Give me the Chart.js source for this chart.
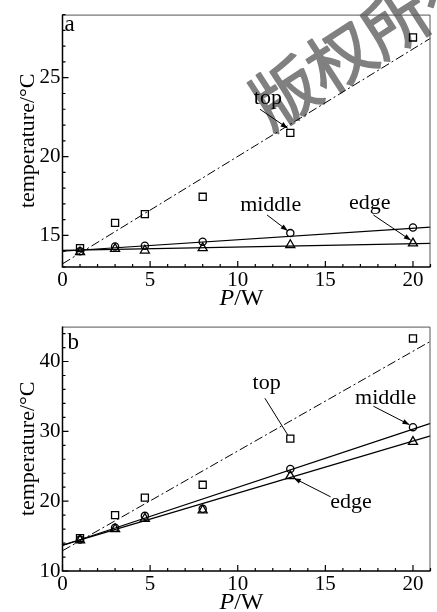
<!DOCTYPE html>
<html>
<head>
<meta charset="utf-8">
<script src="https://cdn.jsdelivr.net/npm/chart.js@4.4.1/dist/chart.umd.min.js"></script>
<style>
  html, body { margin: 0; padding: 0; background: #fff; }
  #wrap { position: relative; width: 437px; height: 612px; overflow: hidden; }
  canvas { position: absolute; left: 0; }
</style>
</head>
<body>
<div id="wrap">
  <canvas id="chartA" width="437" height="312" style="top:0"></canvas>
  <canvas id="chartB" width="437" height="300" style="top:312px"></canvas>
</div>
<script>
// ---------- data ----------
const P = [1, 3, 4.7, 8, 13, 20];                      // heating power, W

// panel a
const topA    = [14.2, 15.8, 16.35, 17.45, 21.5, 27.55];
const middleA = [14.0, 14.3, 14.35, 14.6, 15.15, 15.5];
const edgeA   = [13.95, 14.15, 14.05, 14.2, 14.4, 14.5];

// panel b
const topB    = [14.7, 18.0, 20.5, 22.35, 28.95, 43.3];
const middleB = [14.5, 16.2, 17.9, 18.9, 24.6, 30.6];
const edgeB   = [14.4, 16.0, 17.5, 18.7, 23.6, 28.5];

// fitted lines (value at P = 0 and at P = 21)
const fitP       = [0, 21];
const fitTopA    = [13.2, 27.5];
const fitMiddleA = [14.0, 15.53];
const fitEdgeA   = [14.05, 14.5];
const fitTopB    = [12.9, 42.9];
const fitMiddleB = [13.65, 31.15];
const fitEdgeB   = [13.7, 29.35];

// tick labels
const xTicks  = [0, 5, 10, 15, 20];
const yTicksA = [15, 20, 25];
const yTicksB = [10, 20, 30, 40];

const seriesNames = ['top', 'middle', 'edge'];
const yTitle = 'temperature/\u00B0C';

// ---------- helpers ----------
const FONT = '"Liberation Serif", "Times New Roman", serif';
Chart.defaults.font.family = FONT;
Chart.defaults.color = '#000';

function pts(xs, ys) { return xs.map((v, i) => ({ x: v, y: ys[i] })); }

function datasets(top, middle, edge, fTop, fMid, fEdge) {
  const marker = (data, style, r) => ({
    data: pts(P, data), showLine: false, pointStyle: style, pointRadius: r,
    pointBorderColor: '#000', pointBackgroundColor: 'rgba(0,0,0,0)', pointBorderWidth: 1.3
  });
  const fit = (data, dash, w) => ({
    data: pts(fitP, data), showLine: true, borderColor: '#000', borderWidth: w,
    borderDash: dash, pointRadius: 0, fill: false
  });
  return [
    fit(fTop, [9, 3, 2, 3], 1),
    fit(fMid, [], 1.2),
    fit(fEdge, [], 1.2),
    marker(top, 'rect', 5),
    marker(middle, 'circle', 3.6),
    marker(edge, 'triangle', 5.2)
  ];
}

function drawArrow(ctx, x0, y0, x1, y1, head) {
  ctx.beginPath(); ctx.moveTo(x0, y0); ctx.lineTo(x1, y1); ctx.stroke();
  if (!head) return;
  const a = Math.atan2(y1 - y0, x1 - x0), L = 7, W = 2.6;
  ctx.beginPath();
  ctx.moveTo(x1, y1);
  ctx.lineTo(x1 - L * Math.cos(a) + W * Math.sin(a), y1 - L * Math.sin(a) - W * Math.cos(a));
  ctx.lineTo(x1 - L * Math.cos(a) - W * Math.sin(a), y1 - L * Math.sin(a) + W * Math.cos(a));
  ctx.closePath(); ctx.fill();
}

function makeDecor(cfg) {
  return {
    id: 'decor',
    beforeDatasetsDraw(chart) {
      if (!cfg.watermark) return;
      const ctx = chart.ctx, w = cfg.watermark;
      ctx.save();
      ctx.translate(w.x, w.y);
      ctx.rotate(w.angle * Math.PI / 180);
      ctx.font = w.size + 'px "Noto Sans CJK SC"';
      ctx.fillStyle = 'rgb(128,128,128)';
      ctx.strokeStyle = 'rgb(128,128,128)';
      ctx.lineWidth = 1.6;
      ctx.lineJoin = 'round';
      ctx.textBaseline = 'middle';
      ctx.textAlign = 'left';
      ctx.fillText(w.text, -w.size / 2, 0);
      ctx.strokeText(w.text, -w.size / 2, 0);
      ctx.restore();
    },
    afterDraw(chart) {
      const { ctx, chartArea: ca } = chart;
      const x = chart.scales.x, y = chart.scales.y;
      ctx.save();
      // thin top / right frame
      ctx.strokeStyle = '#555'; ctx.lineWidth = 1;
      ctx.beginPath();
      ctx.moveTo(ca.left, ca.top + 0.5); ctx.lineTo(ca.right - 0.5, ca.top + 0.5); ctx.lineTo(ca.right - 0.5, ca.bottom);
      ctx.stroke();
      // axes
      ctx.strokeStyle = '#000'; ctx.lineWidth = 1.5;
      ctx.beginPath();
      ctx.moveTo(ca.left, ca.top); ctx.lineTo(ca.left, ca.bottom); ctx.lineTo(ca.right, ca.bottom);
      ctx.stroke();
      // inward ticks
      ctx.lineWidth = 1.2;
      ctx.beginPath();
      for (let v = x.min; v <= x.max + 1e-9; v += 1) {
        const px = x.getPixelForValue(v), len = xTicks.includes(v) ? 6 : 3;
        ctx.moveTo(px, ca.bottom); ctx.lineTo(px, ca.bottom - len);
      }
      for (let v = y.min; v <= y.max + 1e-9; v += cfg.yMinor) {
        const py = y.getPixelForValue(v), len = cfg.yMajor.includes(v) ? 6 : 3;
        ctx.moveTo(ca.left, py); ctx.lineTo(ca.left + len, py);
      }
      ctx.stroke();
      // annotations
      ctx.fillStyle = '#000'; ctx.strokeStyle = '#000'; ctx.lineWidth = 1;
      ctx.font = '22px ' + FONT;
      ctx.textAlign = 'center'; ctx.textBaseline = 'alphabetic';
      cfg.notes.forEach(n => {
        ctx.fillText(n.text, x.getPixelForValue(n.at[0]), y.getPixelForValue(n.at[1]));
        drawArrow(ctx, x.getPixelForValue(n.from[0]), y.getPixelForValue(n.from[1]),
                  x.getPixelForValue(n.to[0]), y.getPixelForValue(n.to[1]), n.head);
      });
      // x-axis title: italic P + "/W"
      const cx = (ca.left + ca.right) / 2 - 5, by = ca.bottom + 38;
      ctx.font = 'italic 24px ' + FONT;
      const wP = ctx.measureText('P').width;
      ctx.font = '24px ' + FONT;
      const wW = ctx.measureText('/W').width;
      const x0 = cx - (wP + wW) / 2;
      ctx.textAlign = 'left';
      ctx.font = 'italic 24px ' + FONT; ctx.fillText('P', x0, by);
      ctx.font = '24px ' + FONT; ctx.fillText('/W', x0 + wP, by);
      // panel letter
      ctx.font = '23px ' + FONT;
      ctx.fillText(cfg.letter, ca.left + cfg.letterDx, ca.top + cfg.letterDy);
      ctx.restore();
    }
  };
}

function makeChart(id, ds, yMin, yMax, yTicks, padTop, xAxisH, decor) {
  return new Chart(document.getElementById(id), {
    type: 'scatter',
    data: { datasets: ds },
    options: {
      responsive: false, animation: false, devicePixelRatio: 1,
      layout: { padding: { top: padTop, right: 1, left: 0, bottom: 0 } },
      plugins: { legend: { display: false }, tooltip: { enabled: false } },
      scales: {
        x: {
          type: 'linear', min: 0, max: 21,
          afterBuildTicks: s => { s.ticks = xTicks.map(v => ({ value: v })); },
          afterFit: s => { s.height = xAxisH; },
          grid: { display: false, drawTicks: false }, border: { display: false },
          ticks: { font: { size: 21 }, color: '#000', padding: 1, maxRotation: 0, autoSkip: false }
        },
        y: {
          type: 'linear', min: yMin, max: yMax,
          afterBuildTicks: s => { s.ticks = yTicks.map(v => ({ value: v })); },
          afterFit: s => { s.width = 62.5; },
          grid: { display: false, drawTicks: false }, border: { display: false },
          ticks: { font: { size: 21 }, color: '#000', padding: 2, autoSkip: false },
          title: { display: true, text: yTitle, font: { size: 22 }, color: '#000', padding: { top: 15, bottom: 0 } }
        }
      }
    },
    plugins: [decor]
  });
}

makeChart('chartA',
  datasets(topA, middleA, edgeA, fitTopA, fitMiddleA, fitEdgeA),
  13, 29, yTicksA, 12, 45,
  makeDecor({
    letter: 'a', letterDx: 2, letterDy: 16, yMinor: 1, yMajor: yTicksA,
    watermark: { text: '\u7248\u6743\u6240\u6709', x: 285, y: 93, angle: -33, size: 66 },
    notes: [
      { text: seriesNames[0], at: [11.72, 23.31], from: [11.27, 23.0], to: [12.85, 21.8], head: true },
      { text: seriesNames[1], at: [11.88, 16.56], from: [11.67, 16.3], to: [12.85, 15.3], head: true },
      { text: seriesNames[2], at: [17.54, 16.66], from: [17.74, 16.3], to: [19.88, 14.69], head: true }
    ]
  }));

makeChart('chartB',
  datasets(topB, middleB, edgeB, fitTopB, fitMiddleB, fitEdgeB),
  10, 45, yTicksB, 3, 41,
  makeDecor({
    letter: 'b', letterDx: 5, letterDy: 22, yMinor: 2, yMajor: yTicksB,
    notes: [
      { text: seriesNames[0], at: [11.65, 36.11], from: [11.55, 34.74], to: [12.85, 29.5], head: false },
      { text: seriesNames[1], at: [18.44, 33.86], from: [17.74, 33.6], to: [19.8, 30.95], head: true },
      { text: seriesNames[2], at: [16.47, 19.02], from: [15.3, 20.62], to: [13.2, 23.3], head: true }
    ]
  }));
</script>
</body>
</html>
